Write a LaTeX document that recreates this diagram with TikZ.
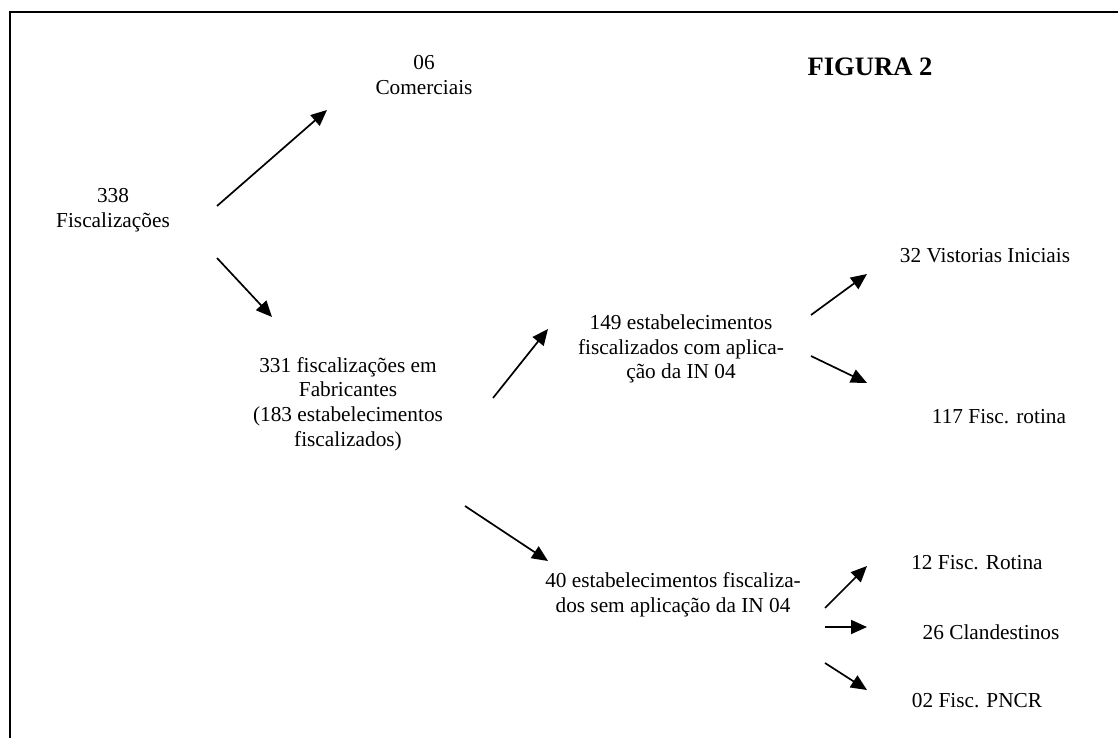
\documentclass[tikz,border=0pt]{standalone}
\usepackage{fontspec}
\setmainfont{Liberation Serif}
\usetikzlibrary{arrows.meta,calc}

\tikzset{
  rotulo/.style={align=center, inner sep=0pt,
    font=\fontsize{10.65}{12.3}\selectfont},
  titulo/.style={inner sep=0pt, font=\fontsize{13.3}{15}\selectfont\bfseries},
  seta/.style={line width=0.85pt, -{Triangle[length=8pt,width=7pt]}},
}

\begin{document}
\begin{tikzpicture}[x=0.5pt,y=-0.5pt]
  \useasboundingbox (0,0) rectangle (1118,738);
  % moldura (aberta em baixo e a direita)
  \draw[line width=1pt] (9.5,738) -- (9.5,12.5) -- (1118,12.5);

  \node[titulo] (fig) at (870,67) {FIGURA 2};

  \node[rotulo] (total)  at (113,210) {338\\Fiscalizações};
  \node[rotulo] (comerc) at (424,75)  {06\\Comerciais};
  \node[rotulo] (fabric) at (348,404) {331 fiscalizações em\\Fabricantes\\(183 estabelecimentos\\fiscalizados)};
  \node[rotulo] (comIN)  at (681,349) {149 estabelecimentos\\fiscalizados com aplica-\\ção da IN 04};
  \node[rotulo] (semIN)  at (673,595) {40 estabelecimentos fiscaliza-\\dos sem aplicação da IN 04};

  \node[rotulo] (vist)  at (985,256) {32 Vistorias Iniciais};
  \node[rotulo] (rotA)  at (999,417) {117 Fisc. rotina};
  \node[rotulo] (rotB)  at (977,563) {12 Fisc. Rotina};
  \node[rotulo] (cland) at (991,632) {26 Clandestinos};
  \node[rotulo] (pncr)  at (977,701) {02 Fisc. PNCR};

  % setas: origem/desvio/destino/desvio
  \foreach \a/\sa/\b/\sb in {
      total/{104,-4}/comerc/{-97,35},
      total/{104,48}/fabric/{-76,-87},
      fabric/{145,-6}/comIN/{-133,-20},
      fabric/{117,102}/semIN/{-125,-34},
      comIN/{130,-34}/vist/{-118,18},
      comIN/{130,7}/rotA/{-132,-34},
      semIN/{152,13}/rotB/{-110,3},
      semIN/{152,32}/cland/{-124,-5},
      semIN/{152,68}/pncr/{-110,-11}}
    \draw[seta] ($(\a.center)+(\sa)$) -- ($(\b.center)+(\sb)$);
\end{tikzpicture}
\end{document}
